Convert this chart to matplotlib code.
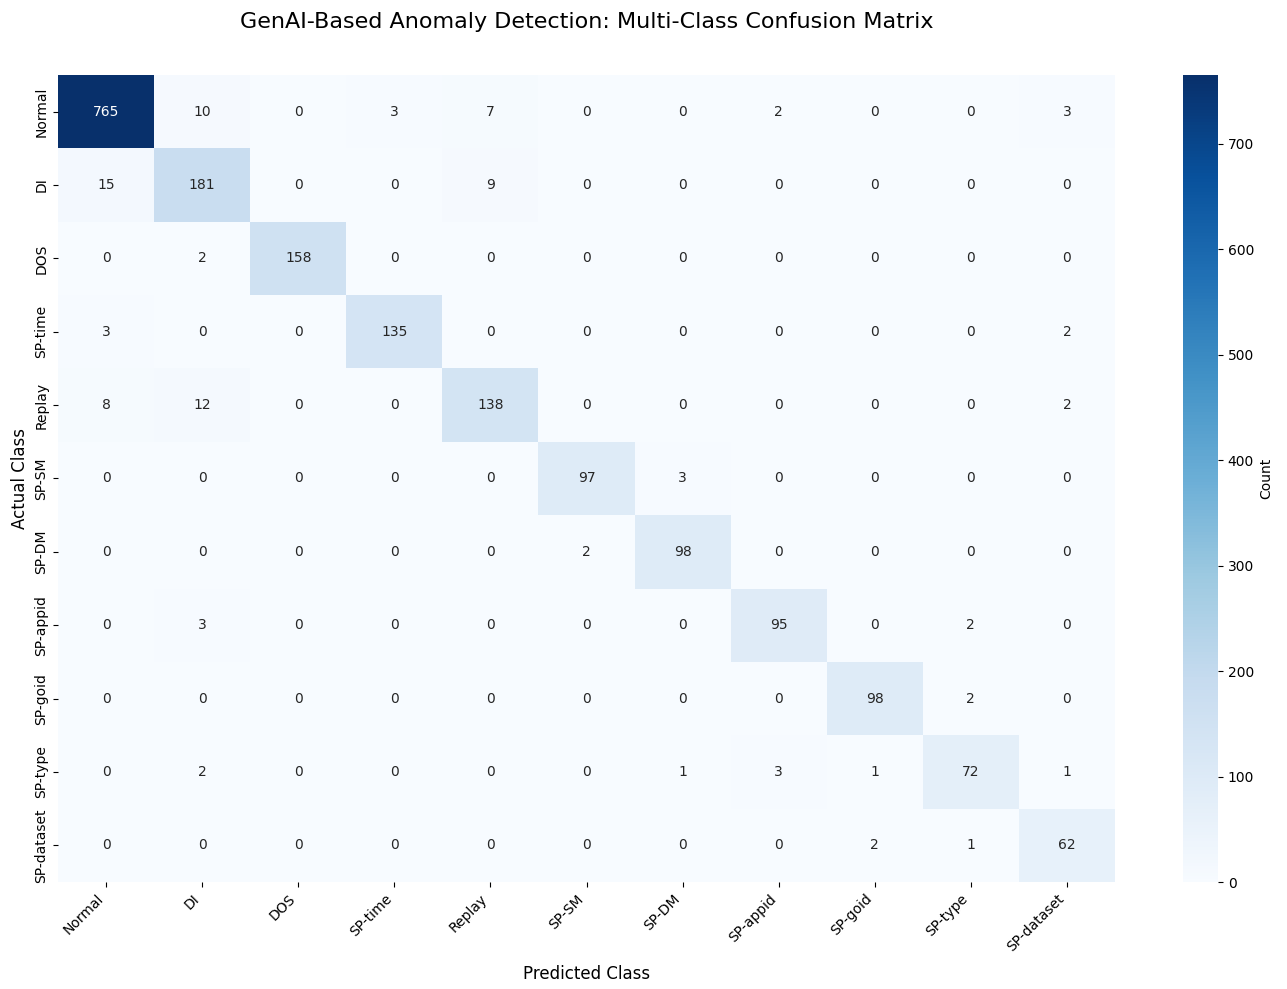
import numpy as np
import matplotlib
matplotlib.use("Agg")
import matplotlib.pyplot as plt
import seaborn as sns

# class labels and confusion counts (rows = actual, cols = predicted)
classes = ['Normal', 'DI', 'DOS', 'SP-time', 'Replay', 'SP-SM', 'SP-DM',
           'SP-appid', 'SP-goid', 'SP-type', 'SP-dataset']

row_normal = [765, 10, 0, 3, 7, 0, 0, 2, 0, 0, 3]
row_di = [15, 181, 0, 0, 9, 0, 0, 0, 0, 0, 0]
row_dos = [0, 2, 158, 0, 0, 0, 0, 0, 0, 0, 0]
row_sptime = [3, 0, 0, 135, 0, 0, 0, 0, 0, 0, 2]
row_replay = [8, 12, 0, 0, 138, 0, 0, 0, 0, 0, 2]
row_spsm = [0, 0, 0, 0, 0, 97, 3, 0, 0, 0, 0]
row_spdm = [0, 0, 0, 0, 0, 2, 98, 0, 0, 0, 0]
row_spappid = [0, 3, 0, 0, 0, 0, 0, 95, 0, 2, 0]
row_spgoid = [0, 0, 0, 0, 0, 0, 0, 0, 98, 2, 0]
row_sptype = [0, 2, 0, 0, 0, 0, 1, 3, 1, 72, 1]
row_spdataset = [0, 0, 0, 0, 0, 0, 0, 0, 2, 1, 62]

cm = np.array([row_normal, row_di, row_dos, row_sptime, row_replay, row_spsm,
               row_spdm, row_spappid, row_spgoid, row_sptype, row_spdataset])

W, H = 1287, 989
fig = plt.figure(figsize=(W / 100, H / 100), dpi=100)
# [left, bottom, width, height] in figure fractions
ax = fig.add_axes([58 / W, (H - 882) / H, (1115 - 58) / W, (882 - 75) / H])
cax = fig.add_axes([1183 / W, (H - 882) / H, 35 / W, (882 - 75) / H])

sns.heatmap(cm, annot=True, fmt='d', cmap='Blues', ax=ax, cbar_ax=cax,
            xticklabels=classes, yticklabels=classes,
            cbar_kws={'label': 'Count'})

ax.set_title('GenAI-Based Anomaly Detection: Multi-Class Confusion Matrix',
             fontsize=16, pad=34)
ax.set_xlabel('Predicted Class', fontsize=12, labelpad=8)
ax.set_ylabel('Actual Class', fontsize=12)
plt.setp(ax.get_xticklabels(), rotation=45, ha='right')
plt.setp(ax.get_yticklabels(), rotation=90, va='center')

fig.savefig('out.png', dpi=100)
